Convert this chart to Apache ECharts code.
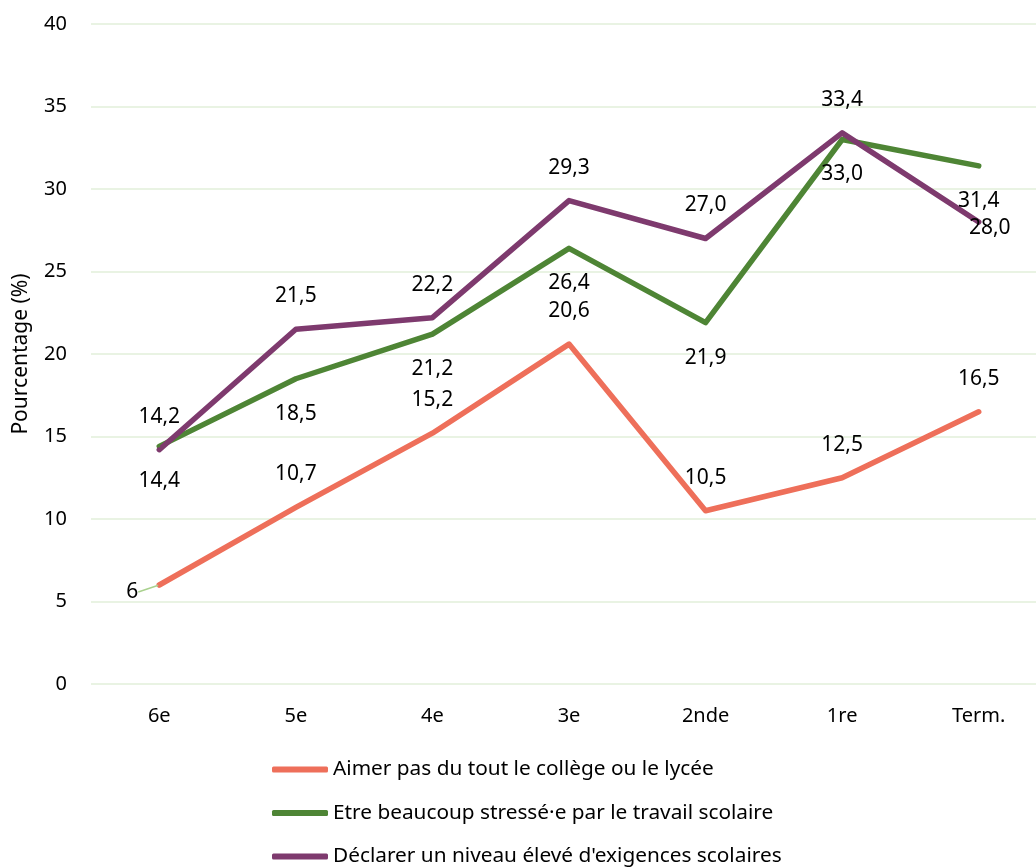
<!DOCTYPE html>
<html>
<head>
<meta charset="utf-8">
<script src="https://cdn.jsdelivr.net/npm/echarts@6/dist/echarts.min.js"></script>
<style>
html,body{margin:0;padding:0;background:#fff;overflow:hidden;width:1036px;height:867px;}
#chart{width:1047px;height:867px;}
</style>
</head>
<body>
<div id="chart"></div>
<script>
const categories = ['6e', '5e', '4e', '3e', '2nde', '1re', 'Term.'];
const seriesNames = [
  'Aimer pas du tout le collège ou le lycée',
  'Etre beaucoup stressé·e par le travail scolaire',
  "Déclarer un niveau élevé d'exigences scolaires"
];
const aimerPas = [6, 10.7, 15.2, 20.6, 10.5, 12.5, 16.5];
const stresse = [14.4, 18.5, 21.2, 26.4, 21.9, 33.0, 31.4];
const exigences = [14.2, 21.5, 22.2, 29.3, 27.0, 33.4, 28.0];
const yTicks = { min: 0, max: 40, interval: 5 };

const FONT = '"Noto Sans", "Open Sans", sans-serif';
const colors = ['#EE6F5A', '#4E8535', '#7E3A6E'];

const fmt = v => (v === 6) ? '6' : v.toFixed(1).replace('.', ',');

function baseLabel(pos, dist) {
  return {
    show: true, position: pos, distance: dist,
    color: '#000', fontSize: 21, lineHeight: 22, fontFamily: FONT,
    formatter: p => fmt(p.value)
  };
}

const redData = aimerPas.map((v, i) => i === 0
  ? { value: v, label: { position: 'left', distance: 4 },
      labelLine: { show: true, showAbove: false, smooth: false, length2: 0,
        lineStyle: { color: '#A9D18E', width: 1.5 } } }
  : v);
const greenData = stresse.slice();
const purpleData = exigences.map((v, i) => i === exigences.length - 1
  ? { value: v, label: { position: 'inside', offset: [11, 6] } }
  : v);

function lineSeries(name, data, color, label, extra) {
  return Object.assign({
    name, type: 'line', data,
    symbol: 'circle', symbolSize: 2, showSymbol: true,
    itemStyle: { color },
    lineStyle: { width: 5.5, color, cap: 'round', join: 'round' },
    label, emphasis: { disabled: true }, animation: false
  }, extra || {});
}

const chart = echarts.init(document.getElementById('chart'), null, { renderer: 'canvas' });
chart.setOption({
  animation: false,
  grid: { left: 91, right: 0, top: 24, bottom: 183, containLabel: false },
  legend: {
    orient: 'vertical', left: 272, top: 759, padding: 0,
    itemWidth: 56, itemHeight: 6, itemGap: 22.5,
    icon: 'roundRect',
    textStyle: { fontSize: 20.8, fontFamily: FONT, color: '#000' },
    data: seriesNames
  },
  xAxis: {
    type: 'category', data: categories, boundaryGap: true,
    axisLine: { show: false }, axisTick: { show: false },
    axisLabel: { fontSize: 20, fontFamily: FONT, color: '#000', margin: 22 }
  },
  yAxis: {
    type: 'value', min: yTicks.min, max: yTicks.max, interval: yTicks.interval,
    name: 'Pourcentage (%)', nameLocation: 'middle', nameGap: 59, nameRotate: 90,
    nameTextStyle: { fontSize: 21, fontFamily: FONT, color: '#000' },
    axisLine: { show: false }, axisTick: { show: false },
    axisLabel: { fontSize: 20, fontFamily: FONT, color: '#000', margin: 24 },
    splitLine: { lineStyle: { color: '#E2EFDA', width: 1.5 } }
  },
  series: [
    lineSeries(seriesNames[0], redData, colors[0], baseLabel('top', 21), {
      labelLayout: p => p.dataIndex === 0 ? { dx: -16, dy: 7 } : null,
      labelLine: { show: false }
    }),
    lineSeries(seriesNames[1], greenData, colors[1], baseLabel('bottom', 23)),
    lineSeries(seriesNames[2], purpleData, colors[2], baseLabel('top', 21))
  ]
});
</script>
</body>
</html>
